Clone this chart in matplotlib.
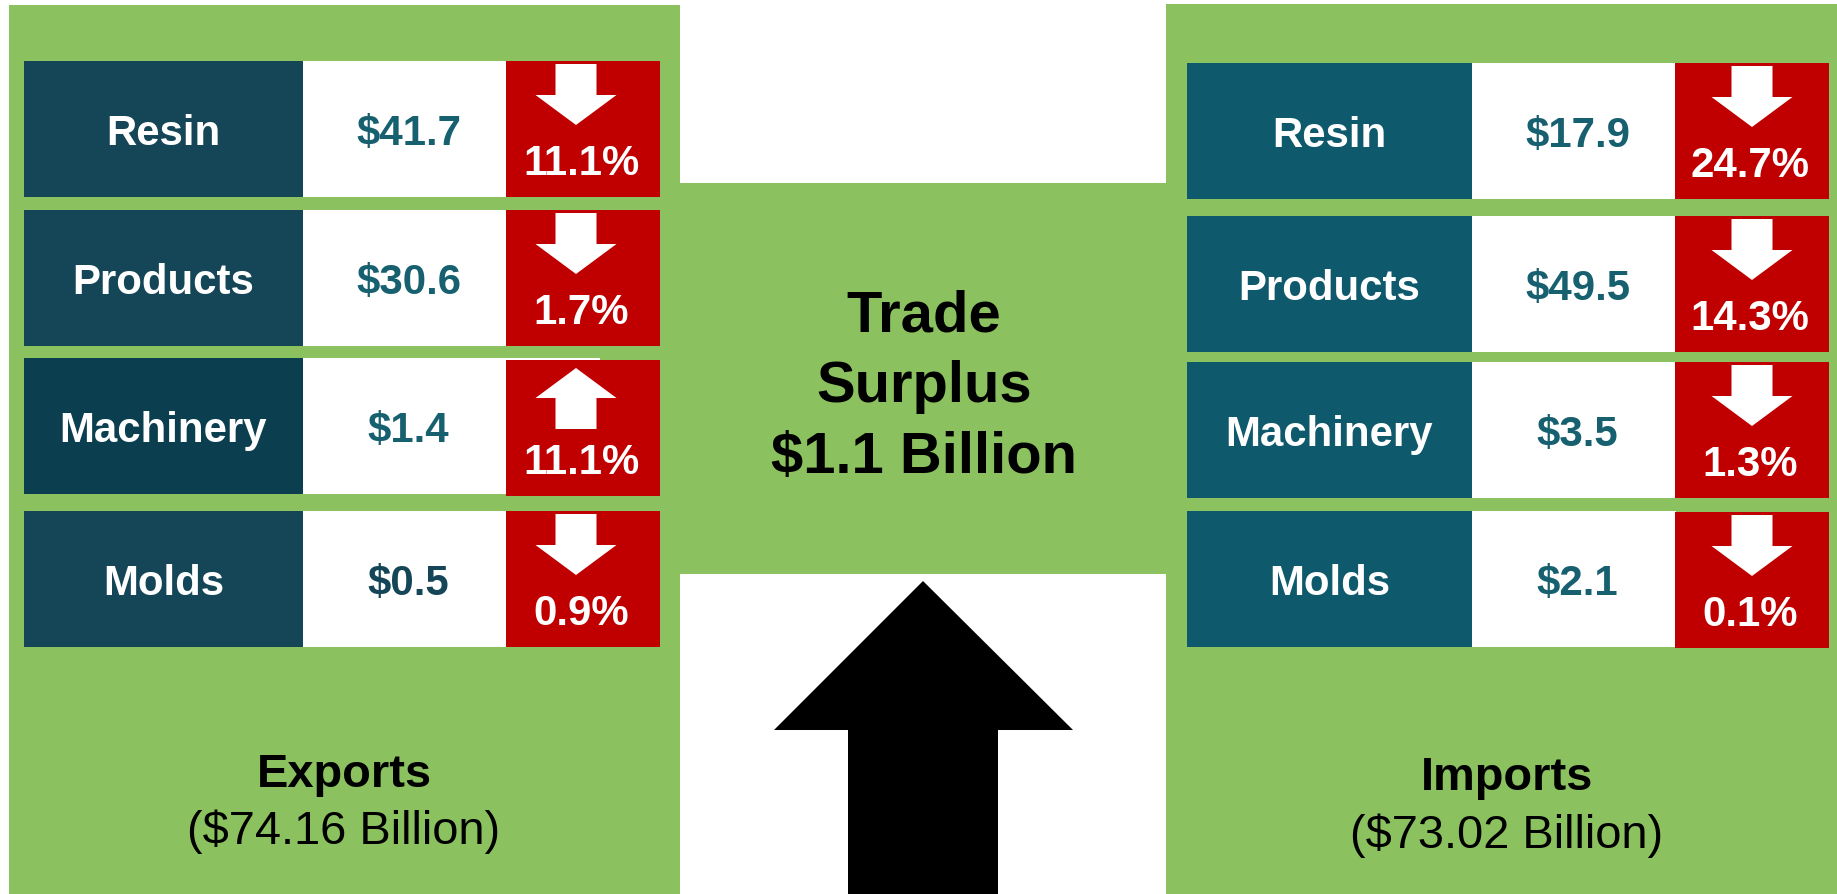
import matplotlib
matplotlib.use("Agg")
import matplotlib.pyplot as plt
from matplotlib.patches import Rectangle, Polygon

# ---------------- data ----------------
categories = ["Resin", "Products", "Machinery", "Molds"]
export_values = [41.7, 30.6, 1.4, 0.5]
export_change = [-11.1, -1.7, 11.1, -0.9]
import_values = [17.9, 49.5, 3.5, 2.1]
import_change = [-24.7, -14.3, -1.3, -0.1]
export_total = 74.16
import_total = 73.02
trade_surplus = 1.1

# ---------------- styling ----------------
W, H, DPI = 1837, 895, 100
GREEN = "#8BC15E"
RED = "#C00000"
FONT = ["Liberation Sans", "DejaVu Sans"]


def pt(px):
    return px * 72.0 / DPI


fig = plt.figure(figsize=(W / DPI, H / DPI), dpi=DPI)
fig.patch.set_facecolor("white")
ax = fig.add_axes([0, 0, 1, 1])
ax.set_xlim(0, W)
ax.set_ylim(H, 0)
ax.axis("off")

# background panels
ax.add_patch(Rectangle((9, 6), 671, H - 6, color=GREEN, lw=0))        # exports panel
ax.add_patch(Rectangle((1166, 5), W - 1166, H - 5, color=GREEN, lw=0))  # imports panel
ax.add_patch(Rectangle((679, 184), 488, 391, color=GREEN, lw=0))      # centre band

# centre text
ax.text(924, 331, "Trade", ha="center", va="baseline", fontsize=pt(58),
        fontweight="bold", family=FONT, color="black")
ax.text(924, 402, "Surplus", ha="center", va="baseline", fontsize=pt(58),
        fontweight="bold", family=FONT, color="black")
ax.text(924, 473, f"${trade_surplus:.1f} Billion", ha="center", va="baseline",
        fontsize=pt(58), fontweight="bold", family=FONT, color="black")

# big black up arrow
tip_x, tip_y, base_y = 923, 582, 731
hw_l, hw_r = 774, 1073
sw_l, sw_r = 848, 998
ax.add_patch(Polygon([(tip_x, tip_y), (hw_r, base_y), (sw_r, base_y), (sw_r, H + 5),
                      (sw_l, H + 5), (sw_l, base_y), (hw_l, base_y)],
                     closed=True, color="black", lw=0))


def arrow(cx, top, up, shaft_w=41, head_w=81):
    if not up:
        a, b, c = top + 3, top + 34, top + 64
        pts = [(cx - shaft_w / 2, a), (cx + shaft_w / 2, a), (cx + shaft_w / 2, b),
               (cx + head_w / 2, b), (cx, c), (cx - head_w / 2, b), (cx - shaft_w / 2, b)]
    else:
        c, b, a = top + 8, top + 38, top + 69
        pts = [(cx, c), (cx + head_w / 2, b), (cx + shaft_w / 2, b), (cx + shaft_w / 2, a),
               (cx - shaft_w / 2, a), (cx - shaft_w / 2, b), (cx - head_w / 2, b)]
    ax.add_patch(Polygon(pts, closed=True, color="white", lw=0))


def draw_side(values, changes, label_x, val_x, red_x, tops, red_tops, label_cols,
              val_cols, arrow_dx, h=136):
    for i, cat in enumerate(categories):
        t = tops[i]
        rt = red_tops[i]
        ax.add_patch(Rectangle((label_x[0], t), label_x[1] - label_x[0], h,
                               color=label_cols[i], lw=0))
        ax.add_patch(Rectangle((val_x[0], t), val_x[1] - val_x[0], h,
                               color="white", lw=0))
        ax.add_patch(Rectangle((red_x[0], rt), red_x[1] - red_x[0], h,
                               color=RED, lw=0))
        cy = t + h / 2
        ax.text((label_x[0] + label_x[1]) / 2, cy + 15, cat, ha="center",
                va="baseline", fontsize=pt(42), fontweight="bold", family=FONT,
                color="white")
        ax.text((val_x[0] + red_x[0]) / 2 + 4, cy + 15, f"${values[i]:.1f}",
                ha="center", va="baseline", fontsize=pt(42), fontweight="bold",
                family=FONT, color=val_cols[i])
        rc = (red_x[0] + red_x[1]) / 2
        arrow(red_x[0] + arrow_dx, rt, changes[i] > 0)
        ax.text(rc - 2, rt + 113, f"{abs(changes[i]):.1f}%", ha="center",
                va="baseline", fontsize=pt(42), fontweight="bold", family=FONT,
                color="white")


draw_side(export_values, export_change,
          label_x=(24, 303), val_x=(303, 600), red_x=(506, 660),
          tops=[62, 211, 359, 512], red_tops=[62, 211, 361, 512],
          label_cols=["#154657", "#154657", "#0B3F4F", "#154657"],
          val_cols=["#17606F", "#17606F", "#17606F", "#154657"],
          arrow_dx=70)

draw_side(import_values, import_change,
          label_x=(1187, 1472), val_x=(1472, 1676), red_x=(1675, 1829),
          tops=[64, 217, 363, 512], red_tops=[64, 217, 363, 513],
          label_cols=["#0E596B"] * 4,
          val_cols=["#17606F"] * 4,
          arrow_dx=77)

# panel captions
ax.text(344, 787, "Exports", ha="center", va="baseline", fontsize=pt(47),
        fontweight="bold", family=FONT, color="black")
ax.text(344, 844, f"(${export_total:.2f} Billion)", ha="center", va="baseline",
        fontsize=pt(47), family=FONT, color="black")
ax.text(1507, 790, "Imports", ha="center", va="baseline", fontsize=pt(47),
        fontweight="bold", family=FONT, color="black")
ax.text(1507, 848, f"(${import_total:.2f} Billion)", ha="center", va="baseline",
        fontsize=pt(47), family=FONT, color="black")

fig.savefig("out.png", dpi=DPI, facecolor="white")
